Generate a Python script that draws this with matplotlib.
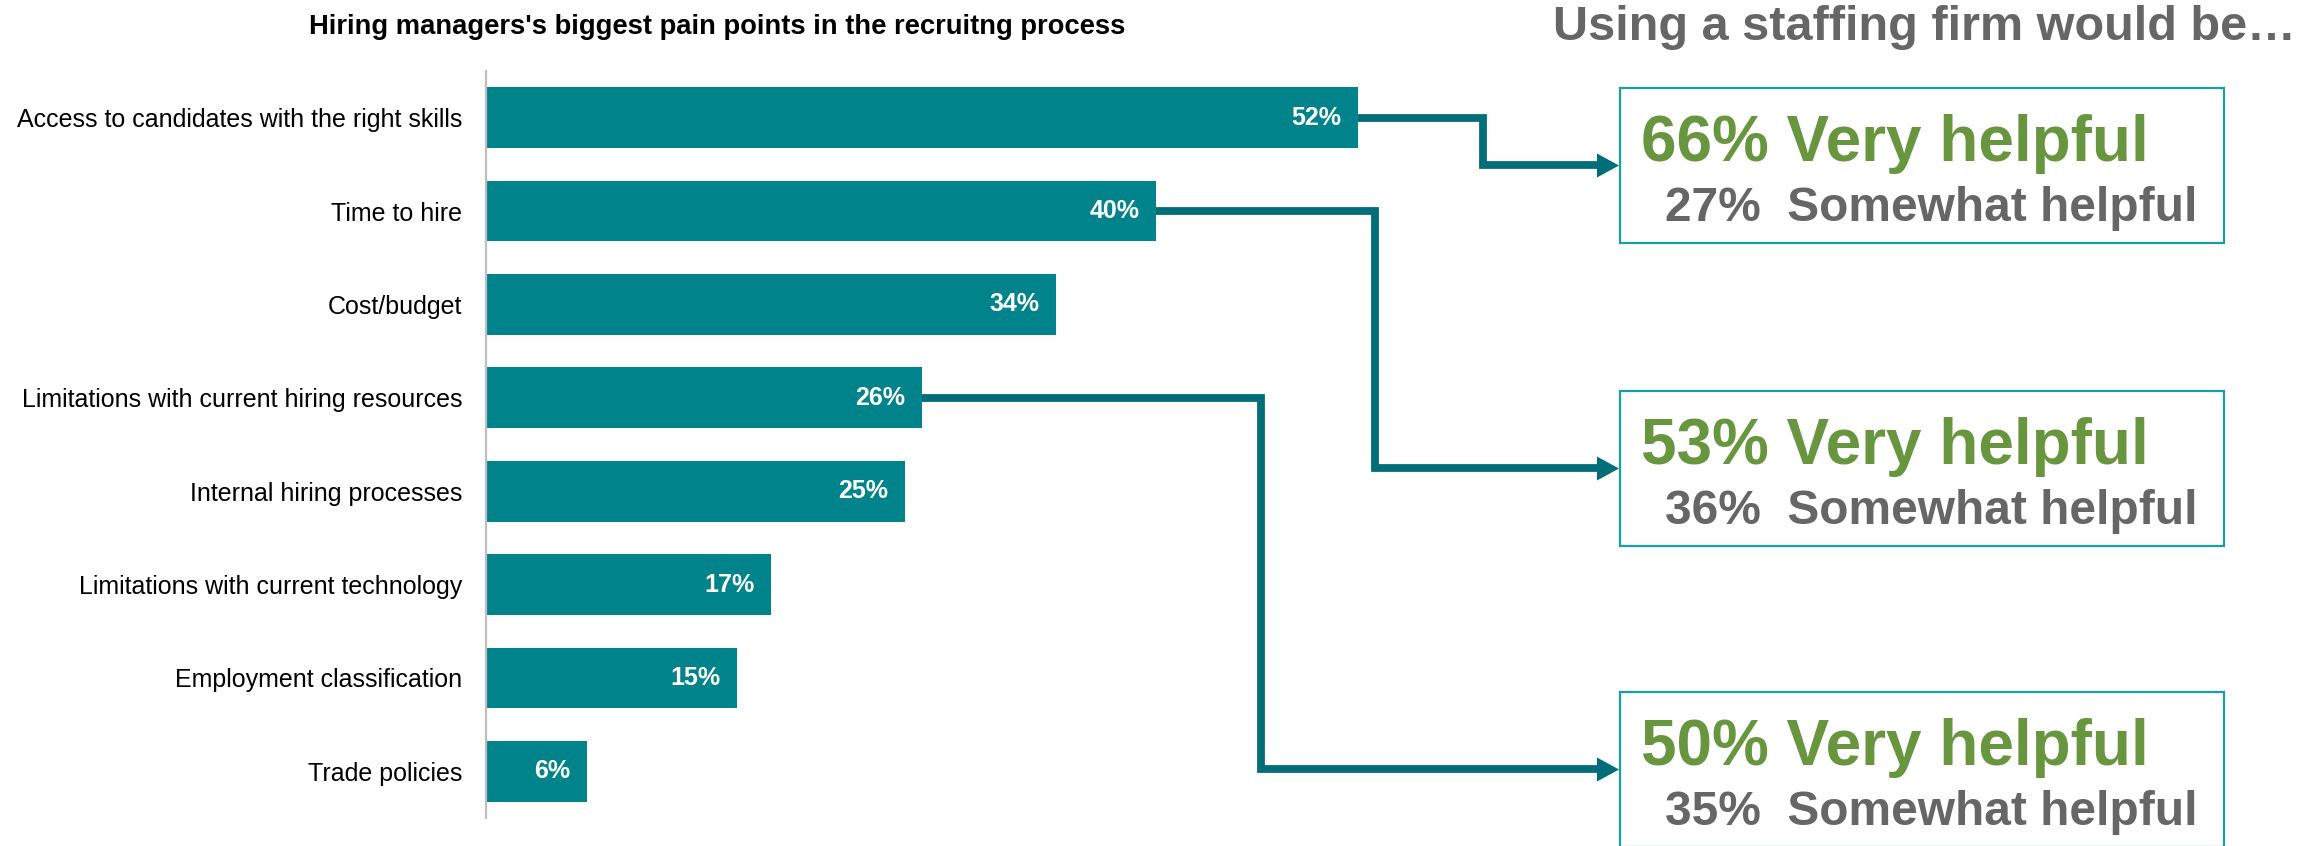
import numpy as np
import matplotlib.pyplot as plt
from matplotlib.patches import Rectangle, Polygon
from matplotlib.lines import Line2D

plt.rcParams['font.family'] = ['Liberation Sans', 'DejaVu Sans']

categories = [
    "Access to candidates with the right skills",
    "Time to hire",
    "Cost/budget",
    "Limitations with current hiring resources",
    "Internal hiring processes",
    "Limitations with current technology",
    "Employment classification",
    "Trade policies",
]
pain_pct = [52, 40, 34, 26, 25, 17, 15, 6]

# staffing-firm helpfulness, one box per highlighted pain point
linked_rows = [0, 1, 3]
very_helpful = [66, 53, 50]
somewhat_helpful = [27, 36, 35]

BAR = "#00838A"
ARROW = "#006E78"
BOX = "#1A9DA8"
GREEN = "#68963E"
GREY = "#666666"

W, H = 2316, 846
fig = plt.figure(figsize=(W / 100, H / 100), dpi=100)

# bar chart area (pixel layout converted to figure fractions)
ax_left, ax_top, ax_bottom, px_per_pct = 486, 71, 818, 16.76
xmax = 60
ax = fig.add_axes([ax_left / W, (H - ax_bottom) / H,
                   xmax * px_per_pct / W, (ax_bottom - ax_top) / H])
y = np.arange(len(categories))
ax.barh(y, pain_pct, height=0.65, color=BAR)
ax.set_xlim(0, xmax)
ax.set_ylim(len(categories) - 0.5, -0.5)
ax.set_yticks(y)
ax.set_yticklabels(categories, fontsize=18)
ax.tick_params(axis='y', length=0, pad=17)
ax.set_xticks([])
for s in ['top', 'right', 'bottom']:
    ax.spines[s].set_visible(False)
ax.spines['left'].set_color('#BFBFBF')
ax.spines['left'].set_linewidth(1.6)

for yi, v in zip(y, pain_pct):
    ax.annotate(f"{v}%", (v, yi), xytext=(-12, 0), textcoords='offset points',
                ha='right', va='center', color='white', fontsize=18,
                fontweight='bold')

# overlay in pixel coordinates (origin top-left) for boxes, arrows, headings
ov = fig.add_axes([0, 0, 1, 1], zorder=3)
ov.set_xlim(0, W)
ov.set_ylim(H, 0)
ov.axis('off')

ov.text(717, 34, "Hiring managers's biggest pain points in the recruitng process",
        ha='center', va='baseline', fontsize=19.75, fontweight='bold', color='black')
ov.text(1553, 40, "Using a staffing firm would be…", ha='left', va='baseline',
        fontsize=35, fontweight='bold', color=GREY)

box_left, box_right, box_h = 1620, 2224, 155
box_tops = [88, 391, 692]
elbow_x = [1483, 1375, 1261]
head_len, head_half = 22, 12

to_ov = ov.transData.inverted()
for row, top, ex, vh, sh in zip(linked_rows, box_tops, elbow_x,
                                very_helpful, somewhat_helpful):
    ov.add_patch(Rectangle((box_left, top), box_right - box_left, box_h,
                           fill=False, edgecolor=BOX, linewidth=1.6,
                           clip_on=False))
    ov.text(box_left + 21, top + 73, f"{vh}% Very helpful", ha='left',
            va='baseline', fontsize=46, fontweight='bold', color=GREEN)
    ov.text(box_left + 45, top + 133, f"{sh}%  Somewhat helpful", ha='left',
            va='baseline', fontsize=34.5, fontweight='bold', color=GREY)

    # elbow connector from the bar end to the box
    sx, sy = to_ov.transform(ax.transData.transform((pain_pct[row], row)))
    ty = top + box_h / 2
    tip = box_left - 1
    ov.add_line(Line2D([sx, ex, ex, tip - head_len + 1], [sy, sy, ty, ty],
                       color=ARROW, linewidth=5.6, solid_joinstyle='miter',
                       solid_capstyle='butt'))
    ov.add_patch(Polygon([[tip - head_len, ty - head_half],
                          [tip, ty],
                          [tip - head_len, ty + head_half]],
                         closed=True, color=ARROW, linewidth=0))

fig.savefig("out.png", dpi=100)
